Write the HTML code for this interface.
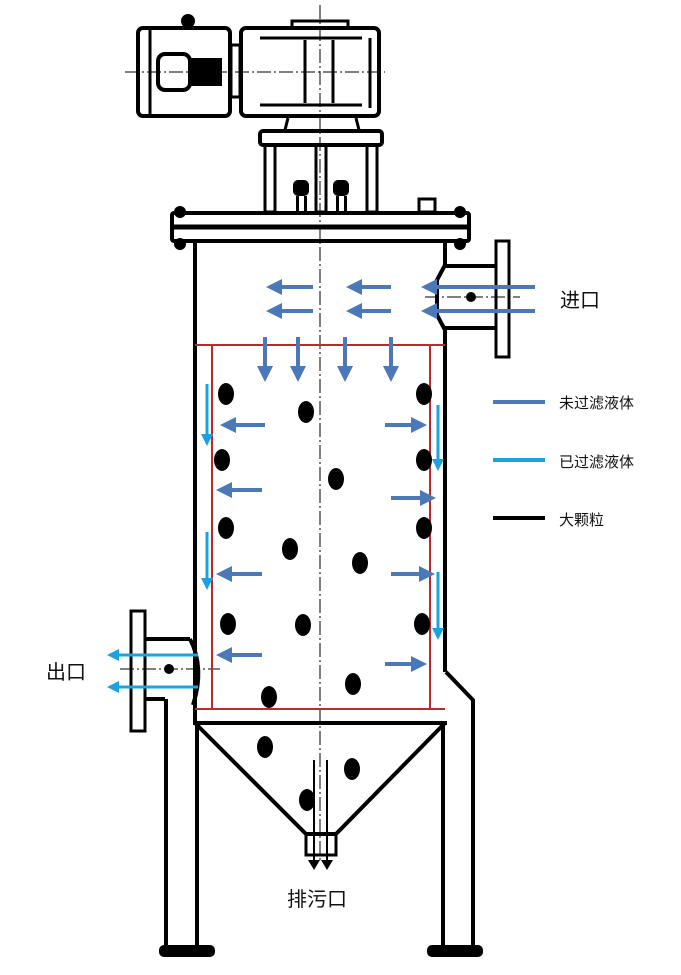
<!DOCTYPE html>
<html><head><meta charset="utf-8"><style>
html,body{margin:0;padding:0;background:#fff;}
svg{display:block;}
text{font-family:"Liberation Sans","Noto Sans CJK SC",sans-serif;fill:#111;}
</style></head><body>
<svg width="681" height="975" viewBox="0 0 681 975" xmlns="http://www.w3.org/2000/svg">
<defs>
<marker id="ad" markerWidth="4" markerHeight="4" refX="3" refY="2" orient="auto" markerUnits="strokeWidth"><path d="M0,0 L4,2 L0,4 Z" fill="#4a78b8"/></marker>
<marker id="al" markerWidth="4" markerHeight="4" refX="3" refY="2" orient="auto" markerUnits="strokeWidth"><path d="M0,0 L4,2 L0,4 Z" fill="#1aa3e0"/></marker>
<marker id="ab" markerWidth="5" markerHeight="6" refX="4" refY="3" orient="auto" markerUnits="strokeWidth"><path d="M0,0 L5,3 L0,6 Z" fill="#000"/></marker>
</defs>
<g fill="none" stroke="#000" stroke-width="4">
<!-- motor -->
<rect x="138" y="28" width="92" height="88" rx="5"/>
<line x1="150" y1="30" x2="150" y2="114" stroke-width="3"/>
<rect x="158" y="54" width="32" height="36" rx="7"/>
<rect x="190" y="60" width="30" height="24" fill="#000"/>
<circle cx="188" cy="21" r="5" fill="#000"/>
<rect x="231" y="45" width="9" height="52" stroke-width="3"/>
<rect x="241" y="28" width="138" height="88" rx="5"/>
<rect x="292" y="21" width="56" height="7" stroke-width="3"/>
<line x1="260" y1="38" x2="362" y2="38" stroke-width="3"/>
<line x1="260" y1="105" x2="362" y2="105" stroke-width="3"/>
<line x1="305" y1="40" x2="305" y2="103" stroke-width="3"/>
<line x1="333" y1="40" x2="333" y2="103" stroke-width="3"/>
<line x1="370" y1="38" x2="370" y2="108" stroke-width="3"/>
<path d="M288 118 L285 130 M356 118 L359 130" stroke-width="3"/>
<rect x="260" y="131" width="122" height="14" rx="3"/>
<rect x="265" y="145" width="10" height="67" stroke-width="3"/>
<rect x="367" y="145" width="10" height="67" stroke-width="3"/>
<rect x="316" y="145" width="10" height="67" stroke-width="3"/>
<!-- top flange -->
<rect x="172" y="213" width="297" height="28" rx="2"/>
<line x1="172" y1="227" x2="469" y2="227" stroke-width="5"/>
<rect x="419" y="199" width="16" height="13" stroke-width="3"/>
<!-- vessel -->
<line x1="195" y1="241" x2="195" y2="723"/>
<line x1="445" y1="241" x2="445" y2="265"/>
<line x1="445" y1="330" x2="445" y2="672"/>
<path d="M445 265 L437 280 L437 315 L445 330" />
<line x1="193" y1="723" x2="447" y2="723"/>
<path d="M195 723 L306 834 L336 834 L445 723"/>
<rect x="306" y="834" width="30" height="21" stroke-width="3"/>
<!-- inlet -->
<line x1="445" y1="266" x2="496" y2="266"/>
<line x1="445" y1="328" x2="496" y2="328"/>
<rect x="496" y="241" width="13" height="116" stroke-width="3"/>
<!-- outlet -->
<rect x="131" y="611" width="14" height="120" stroke-width="3"/>
<line x1="145" y1="639" x2="190" y2="639"/>
<line x1="145" y1="699" x2="165" y2="699"/>
<path d="M190 639 Q205 668 193 705"/>
<!-- legs -->
<line x1="166" y1="699" x2="166" y2="948"/>
<line x1="197" y1="723" x2="197" y2="948"/>
<rect x="161" y="947" width="52" height="8" rx="3" fill="#000"/>
<line x1="443" y1="723" x2="443" y2="948"/>
<path d="M446 672 L473 700 L473 948"/>
<rect x="429" y="947" width="52" height="8" rx="3" fill="#000"/>
</g>
<g fill="#000">
<circle cx="180" cy="212" r="6"/><circle cx="180" cy="244" r="6"/>
<circle cx="460" cy="212" r="6"/><circle cx="460" cy="244" r="6"/>
<rect x="293" y="180" width="16" height="16" rx="5"/><rect x="333" y="180" width="16" height="16" rx="5"/>
<rect x="296" y="196" width="3" height="16"/><rect x="304" y="196" width="3" height="16"/>
<rect x="336" y="196" width="3" height="16"/><rect x="344" y="196" width="3" height="16"/>
<circle cx="471" cy="297" r="5"/><circle cx="169" cy="669" r="5"/>
</g>
<!-- centerlines -->
<g stroke="#000" stroke-width="1" stroke-dasharray="14,3,2,3" fill="none">
<line x1="320" y1="5" x2="320" y2="860"/>
<line x1="125" y1="72" x2="385" y2="72"/>
<line x1="425" y1="297" x2="520" y2="297"/>
<line x1="120" y1="669" x2="220" y2="669"/>
</g>
<!-- red filter -->
<g stroke="#c0282d" stroke-width="2" fill="none">
<line x1="195" y1="345" x2="445" y2="345"/>
<line x1="195" y1="709" x2="445" y2="709"/>
<line x1="212" y1="345" x2="212" y2="709"/>
<line x1="430" y1="345" x2="430" y2="709"/>
</g>
<!-- dark arrows -->
<g stroke="#4a78b8" stroke-width="4" marker-end="url(#ad)">
<line x1="313" y1="287" x2="270" y2="287"/><line x1="313" y1="311" x2="270" y2="311"/>
<line x1="391" y1="287" x2="350" y2="287"/><line x1="391" y1="311" x2="350" y2="311"/>
<line x1="535" y1="287" x2="425" y2="287"/><line x1="535" y1="311" x2="425" y2="311"/>
<line x1="265" y1="337" x2="265" y2="378"/><line x1="298" y1="337" x2="298" y2="378"/>
<line x1="345" y1="337" x2="345" y2="378"/><line x1="391" y1="337" x2="391" y2="378"/>
<line x1="265" y1="425" x2="224" y2="425"/><line x1="262" y1="490" x2="220" y2="490"/>
<line x1="262" y1="574" x2="220" y2="574"/><line x1="262" y1="655" x2="220" y2="655"/>
<line x1="385" y1="425" x2="423" y2="425"/><line x1="391" y1="498" x2="432" y2="498"/>
<line x1="391" y1="574" x2="431" y2="574"/><line x1="385" y1="664" x2="423" y2="664"/>
</g>
<!-- light arrows -->
<g stroke="#1aa3e0" stroke-width="3" marker-end="url(#al)">
<line x1="207" y1="384" x2="207" y2="443"/><line x1="207" y1="532" x2="207" y2="587"/>
<line x1="438" y1="405" x2="438" y2="468"/><line x1="438" y1="572" x2="438" y2="637"/>
<line x1="198" y1="655" x2="110" y2="655"/><line x1="198" y1="687" x2="110" y2="687"/>
</g>
<!-- drain -->
<g stroke="#000" stroke-width="2" marker-end="url(#ab)">
<line x1="314" y1="760" x2="314" y2="868"/><line x1="327" y1="760" x2="327" y2="868"/>
</g>
<!-- particles -->
<g fill="#000">
<ellipse cx="226" cy="394" rx="8" ry="11"/><ellipse cx="306" cy="412" rx="8" ry="11"/>
<ellipse cx="424" cy="394" rx="8" ry="11"/><ellipse cx="222" cy="460" rx="8" ry="11"/>
<ellipse cx="336" cy="479" rx="8" ry="11"/><ellipse cx="424" cy="460" rx="8" ry="11"/>
<ellipse cx="226" cy="528" rx="8" ry="11"/><ellipse cx="290" cy="549" rx="8" ry="11"/>
<ellipse cx="360" cy="563" rx="8" ry="11"/><ellipse cx="424" cy="528" rx="8" ry="11"/>
<ellipse cx="228" cy="624" rx="8" ry="11"/><ellipse cx="303" cy="625" rx="8" ry="11"/>
<ellipse cx="422" cy="624" rx="8" ry="11"/><ellipse cx="269" cy="697" rx="8" ry="11"/>
<ellipse cx="353" cy="684" rx="8" ry="11"/><ellipse cx="265" cy="747" rx="8" ry="11"/>
<ellipse cx="352" cy="769" rx="8" ry="11"/><ellipse cx="307" cy="800" rx="8" ry="11"/>
</g>
<!-- legend -->
<line x1="493" y1="402" x2="545" y2="402" stroke="#4a78b8" stroke-width="4"/>
<line x1="493" y1="460" x2="545" y2="460" stroke="#1aa3e0" stroke-width="4"/>
<line x1="493" y1="518" x2="545" y2="518" stroke="#000" stroke-width="4"/>
<text x="559" y="408" font-size="15">未过滤液体</text>
<text x="559" y="467" font-size="15">已过滤液体</text>
<text x="559" y="525" font-size="15">大颗粒</text>
<text x="560" y="307" font-size="20">进口</text>
<text x="46" y="679" font-size="20">出口</text>
<text x="287" y="906" font-size="20">排污口</text>
</svg>
</body></html>
